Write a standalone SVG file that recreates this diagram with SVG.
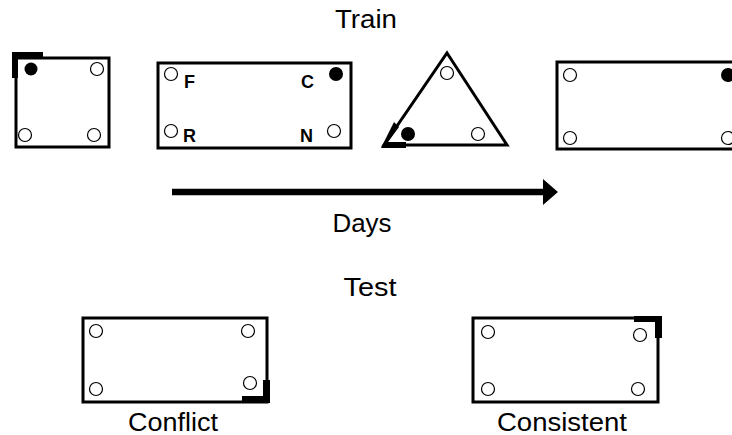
<svg xmlns="http://www.w3.org/2000/svg" width="732" height="435" viewBox="0 0 732 435">
<style>
.box{fill:none;stroke:#000;stroke-width:3}
.oc{fill:#fff;stroke:#000;stroke-width:1.2}
.fc{fill:#000}
.mk{fill:#000}
.lbl{font-family:"Liberation Sans",Arial,sans-serif;font-size:25px;fill:#000;text-anchor:middle}
.bl{font-family:"Liberation Sans",Arial,sans-serif;font-size:18px;font-weight:bold;fill:#000}
</style>
<defs>
<marker id="ah" markerWidth="4" markerHeight="4" refX="0" refY="2" orient="auto" markerUnits="strokeWidth" viewBox="0 0 4 4">
<path d="M0,0 L2.3,2 L0,4 Z" fill="#000"/>
</marker>
</defs>
<rect width="732" height="435" fill="#fff"/>
<text class="lbl" x="366" y="28" textLength="62" lengthAdjust="spacingAndGlyphs">Train</text>
<text class="lbl" x="362" y="232" textLength="59" lengthAdjust="spacingAndGlyphs">Days</text>
<text class="lbl" x="370" y="296" textLength="53" lengthAdjust="spacingAndGlyphs">Test</text>

<g id="box1">
<rect class="box" x="16" y="58" width="93" height="89"/>
<path class="mk" d="M12,52 H43 V57 H18 V78 H12 Z"/>
<circle class="fc" cx="31" cy="69" r="6.5"/>
<circle class="oc" cx="97" cy="69" r="6.5"/>
<circle class="oc" cx="25" cy="135" r="6.5"/>
<circle class="oc" cx="94" cy="135" r="6.5"/>
</g>

<g id="box2">
<rect class="box" x="158" y="63" width="193" height="85"/>
<circle class="oc" cx="171" cy="74" r="6.5"/>
<circle class="fc" cx="336" cy="74" r="7"/>
<circle class="oc" cx="171" cy="131" r="6.5"/>
<circle class="oc" cx="334" cy="131" r="6.5"/>
<text class="bl" x="184" y="88">F</text>
<text class="bl" x="301" y="88">C</text>
<text class="bl" x="183" y="142">R</text>
<text class="bl" x="300" y="142">N</text>
</g>

<g id="triangle">
<path class="box" d="M447,53 L507,145 L384,145 Z"/>
<circle class="oc" cx="447" cy="73" r="6.5"/>
<circle class="oc" cx="478" cy="134" r="6.5"/>
<circle class="fc" cx="408" cy="134" r="7"/>
<path class="mk" d="M394,122 L399,127 L388,142 L406,142 L406,148 L381,148 Z"/>
</g>

<g id="box4">
<rect class="box" x="557" y="62" width="190" height="87"/>
<circle class="oc" cx="570" cy="75" r="6.5"/>
<circle class="oc" cx="570" cy="138" r="6.5"/>
<circle class="fc" cx="728" cy="75" r="7"/>
<circle class="oc" cx="728" cy="138" r="6.5"/>
</g>

<g id="connectors">
<line x1="172" y1="192" x2="543" y2="192" stroke="#000" stroke-width="6.5" marker-end="url(#ah)"/>
</g>

<g id="conflict">
<rect class="box" x="83" y="318" width="184" height="84"/>
<circle class="oc" cx="96" cy="331" r="6.5"/>
<circle class="oc" cx="248" cy="331" r="6.5"/>
<circle class="oc" cx="96" cy="389" r="6.5"/>
<circle class="oc" cx="250" cy="383" r="6.5"/>
<path class="mk" d="M263,380 H270 V403 H242 V396 H263 Z"/>
<text class="lbl" x="173" y="431" textLength="90" lengthAdjust="spacingAndGlyphs">Conflict</text>
</g>

<g id="consistent">
<rect class="box" x="473" y="318" width="185" height="84"/>
<circle class="oc" cx="488" cy="332" r="6.5"/>
<circle class="oc" cx="640" cy="335" r="6.5"/>
<circle class="oc" cx="488" cy="389" r="6.5"/>
<circle class="oc" cx="638" cy="389" r="6.5"/>
<path class="mk" d="M634,316 H662 V338 H655 V322 H634 Z"/>
<text class="lbl" x="562" y="431" textLength="130" lengthAdjust="spacingAndGlyphs">Consistent</text>
</g>
</svg>
